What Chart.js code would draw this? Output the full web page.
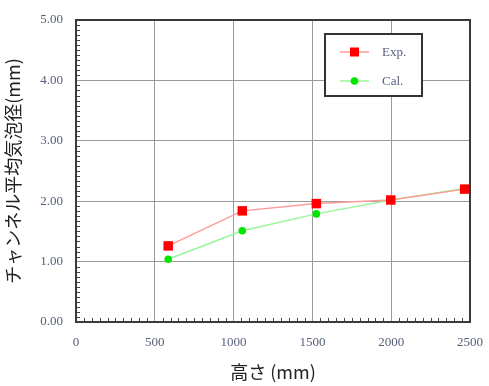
<!DOCTYPE html>
<html>
<head>
<meta charset="utf-8">
<script src="https://cdn.jsdelivr.net/npm/chart.js@4/dist/chart.umd.min.js"></script>
<style>
html,body{margin:0;padding:0;background:#fff;}
#wrap{position:relative;width:489px;height:386px;}
</style>
</head>
<body>
<div id="wrap"><canvas id="c" width="489" height="386"></canvas></div>
<script>
// ---- data ----
const heights = [585, 1055, 1525, 1997, 2466];
const expValues = [1.26, 1.84, 1.96, 2.02, 2.20];
const calValues = [1.04, 1.51, 1.79, 2.02, 2.21];
const seriesLabels = ['Exp.', 'Cal.'];
const xTitle = '高さ (mm)';
const yTitle = 'チャンネル平均気泡径(mm)';

const tickColor = '#56607a';
const serif = '"Liberation Serif", "Times New Roman", serif';
const jp = '"Noto Sans CJK JP", "Noto Sans", sans-serif';

const toPts = (xs, ys) => xs.map((x, i) => ({x: x, y: ys[i]}));

const frameAndMinor = {
  id: 'frameAndMinor',
  afterDatasetsDraw(chart) {
    const ctx = chart.ctx, a = chart.chartArea;
    const xs = chart.scales.x, ys = chart.scales.y;
    ctx.save();
    ctx.strokeStyle = '#444';
    ctx.lineWidth = 1;
    ctx.beginPath();
    for (let v = 50; v < 2500; v += 50) {
      if (v % 500 === 0) continue;
      const px = Math.round(xs.getPixelForValue(v)) + 0.5;
      ctx.moveTo(px, a.bottom);
      ctx.lineTo(px, a.bottom - 4);
    }
    for (let i = 1; i < 60; i++) {
      if (i % 12 === 0) continue;
      const py = Math.round(ys.getPixelForValue(i / 12)) + 0.5;
      ctx.moveTo(a.left, py);
      ctx.lineTo(a.left + 4, py);
    }
    ctx.stroke();
    ctx.strokeStyle = '#3a3a3a';
    ctx.lineWidth = 2;
    ctx.strokeRect(a.left, a.top, a.right - a.left, a.bottom - a.top);
    ctx.restore();
  },
  afterDraw(chart) {
    // legend box inside plot
    const ctx = chart.ctx;
    const bx = 325, by = 34, bw = 97, bh = 62;
    ctx.save();
    ctx.fillStyle = '#fff';
    ctx.fillRect(bx, by, bw, bh);
    ctx.strokeStyle = '#333';
    ctx.lineWidth = 2;
    ctx.strokeRect(bx, by, bw, bh);
    const rows = [52, 81];
    chart.data.datasets.forEach((ds, i) => {
      const y = rows[i];
      ctx.strokeStyle = ds.borderColor;
      ctx.lineWidth = 1.5;
      ctx.beginPath();
      ctx.moveTo(340, y); ctx.lineTo(369, y);
      ctx.stroke();
      ctx.fillStyle = ds.pointBackgroundColor;
      if (ds.pointStyle === 'rect') {
        ctx.fillRect(350, y - 4.5, 9, 9);
      } else {
        ctx.beginPath(); ctx.arc(354.5, y, 3.8, 0, Math.PI * 2); ctx.fill();
      }
      ctx.fillStyle = tickColor;
      ctx.font = '13px ' + serif;
      ctx.textBaseline = 'middle';
      ctx.textAlign = 'left';
      ctx.fillText(ds.label, 382, y + 1);
    });
    ctx.restore();
  }
};

new Chart(document.getElementById('c'), {
  type: 'scatter',
  data: {
    datasets: [
      {
        label: seriesLabels[0],
        data: toPts(heights, expValues),
        showLine: true,
        borderColor: '#ff9a9a',
        borderWidth: 1.5,
        pointStyle: 'rect',
        pointRadius: 6.7,
        pointBackgroundColor: '#ff0000',
        pointBorderColor: '#ff0000',
        pointBorderWidth: 0
      },
      {
        label: seriesLabels[1],
        data: toPts(heights, calValues),
        showLine: true,
        borderColor: '#99f599',
        borderWidth: 1.5,
        pointStyle: 'circle',
        pointRadius: 3.8,
        pointBackgroundColor: '#00e600',
        pointBorderColor: '#00e600',
        pointBorderWidth: 0
      }
    ]
  },
  options: {
    responsive: false,
    animation: false,
    events: [],
    layout: {padding: {top: 20, right: 19, bottom: 0, left: 0}},
    plugins: {legend: {display: false}, tooltip: {enabled: false}},
    scales: {
      x: {
        type: 'linear', min: 0, max: 2500,
        afterFit(s) { s.height = 64; s.paddingRight = 0; s.paddingLeft = 0; },
        ticks: {stepSize: 500, color: tickColor, font: {family: serif, size: 13}, padding: 13, maxRotation: 0,
          callback: v => String(v)},
        grid: {color: '#9a9a9a', lineWidth: 1, drawTicks: false},
        border: {display: false},
        title: {display: true, text: xTitle, color: '#222', font: {family: jp, size: 18}, padding: {top: 0, bottom: 3}}
      },
      y: {
        type: 'linear', min: 0, max: 5,
        afterFit(s) { s.width = 76; s.paddingTop = 0; s.paddingBottom = 0; },
        ticks: {stepSize: 1, color: tickColor, font: {family: serif, size: 13}, padding: 13,
          callback: v => Number(v).toFixed(2)},
        grid: {color: '#9a9a9a', lineWidth: 1, drawTicks: false},
        border: {display: false},
        title: {display: true, text: yTitle, color: '#222', font: {family: jp, size: 18}, padding: {top: 2, bottom: 0}}
      }
    }
  },
  plugins: [frameAndMinor]
});
</script>
</body>
</html>
